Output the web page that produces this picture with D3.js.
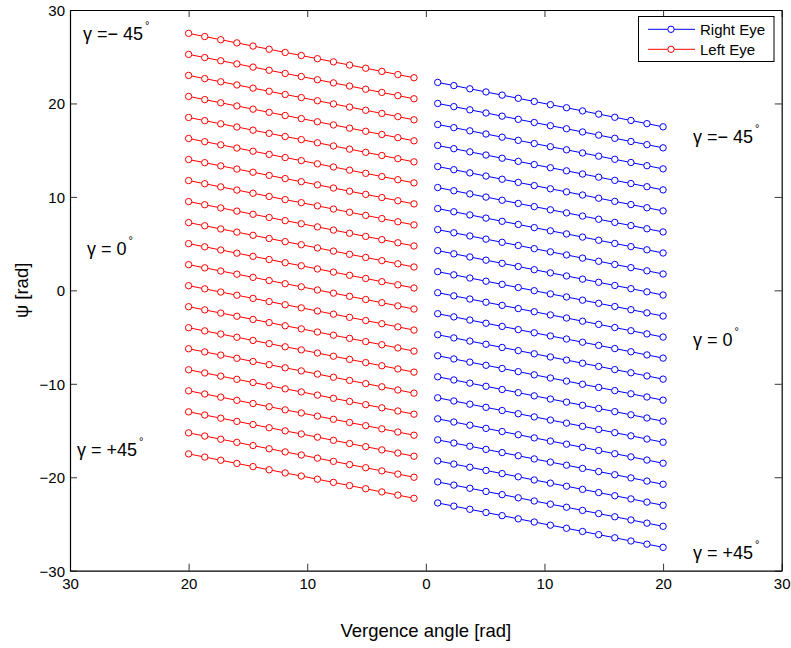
<!DOCTYPE html>
<html>
<head>
<meta charset="utf-8">
<script src="https://cdn.jsdelivr.net/npm/d3@7"></script>
<style>
  body { margin: 0; background: #fff; }
  svg { display: block; font-family: Arial, "Liberation Sans", Helvetica, sans-serif; }
</style>
</head>
<body>
<svg id="chart" width="791" height="648"></svg>
<script>
// x positions of the markers (left eye plotted on the negative side, labels show |x|)
const leftEyeX = [-20, -18.64, -17.29, -15.93, -14.57, -13.21, -11.86, -10.5, -9.14, -7.79, -6.43, -5.07, -3.71, -2.36, -1];
const rightEyeX = [1, 2.36, 3.71, 5.07, 6.43, 7.79, 9.14, 10.5, 11.86, 13.21, 14.57, 15.93, 17.29, 18.64, 20];

// psi values, one row per gamma line (top to bottom)
const leftEyePsi = [
  [27.5, 27.16, 26.82, 26.48, 26.14, 25.8, 25.46, 25.13, 24.79, 24.45, 24.11, 23.77, 23.43, 23.09, 22.75],
  [25.25, 24.91, 24.57, 24.23, 23.89, 23.55, 23.21, 22.88, 22.54, 22.2, 21.86, 21.52, 21.18, 20.84, 20.5],
  [23, 22.66, 22.32, 21.98, 21.64, 21.3, 20.96, 20.63, 20.29, 19.95, 19.61, 19.27, 18.93, 18.59, 18.25],
  [20.75, 20.41, 20.07, 19.73, 19.39, 19.05, 18.71, 18.38, 18.04, 17.7, 17.36, 17.02, 16.68, 16.34, 16],
  [18.5, 18.16, 17.82, 17.48, 17.14, 16.8, 16.46, 16.13, 15.79, 15.45, 15.11, 14.77, 14.43, 14.09, 13.75],
  [16.25, 15.91, 15.57, 15.23, 14.89, 14.55, 14.21, 13.88, 13.54, 13.2, 12.86, 12.52, 12.18, 11.84, 11.5],
  [14, 13.66, 13.32, 12.98, 12.64, 12.3, 11.96, 11.63, 11.29, 10.95, 10.61, 10.27, 9.93, 9.59, 9.25],
  [11.75, 11.41, 11.07, 10.73, 10.39, 10.05, 9.71, 9.38, 9.04, 8.7, 8.36, 8.02, 7.68, 7.34, 7],
  [9.5, 9.16, 8.82, 8.48, 8.14, 7.8, 7.46, 7.13, 6.79, 6.45, 6.11, 5.77, 5.43, 5.09, 4.75],
  [7.25, 6.91, 6.57, 6.23, 5.89, 5.55, 5.21, 4.88, 4.54, 4.2, 3.86, 3.52, 3.18, 2.84, 2.5],
  [5, 4.66, 4.32, 3.98, 3.64, 3.3, 2.96, 2.63, 2.29, 1.95, 1.61, 1.27, 0.93, 0.59, 0.25],
  [2.75, 2.41, 2.07, 1.73, 1.39, 1.05, 0.71, 0.38, 0.04, -0.3, -0.64, -0.98, -1.32, -1.66, -2],
  [0.5, 0.16, -0.18, -0.52, -0.86, -1.2, -1.54, -1.87, -2.21, -2.55, -2.89, -3.23, -3.57, -3.91, -4.25],
  [-1.75, -2.09, -2.43, -2.77, -3.11, -3.45, -3.79, -4.12, -4.46, -4.8, -5.14, -5.48, -5.82, -6.16, -6.5],
  [-4, -4.34, -4.68, -5.02, -5.36, -5.7, -6.04, -6.37, -6.71, -7.05, -7.39, -7.73, -8.07, -8.41, -8.75],
  [-6.25, -6.59, -6.93, -7.27, -7.61, -7.95, -8.29, -8.62, -8.96, -9.3, -9.64, -9.98, -10.32, -10.66, -11],
  [-8.5, -8.84, -9.18, -9.52, -9.86, -10.2, -10.54, -10.87, -11.21, -11.55, -11.89, -12.23, -12.57, -12.91, -13.25],
  [-10.75, -11.09, -11.43, -11.77, -12.11, -12.45, -12.79, -13.12, -13.46, -13.8, -14.14, -14.48, -14.82, -15.16, -15.5],
  [-13, -13.34, -13.68, -14.02, -14.36, -14.7, -15.04, -15.37, -15.71, -16.05, -16.39, -16.73, -17.07, -17.41, -17.75],
  [-15.25, -15.59, -15.93, -16.27, -16.61, -16.95, -17.29, -17.62, -17.96, -18.3, -18.64, -18.98, -19.32, -19.66, -20],
  [-17.5, -17.84, -18.18, -18.52, -18.86, -19.2, -19.54, -19.87, -20.21, -20.55, -20.89, -21.23, -21.57, -21.91, -22.25]
];

const rightEyePsi = [
  [22.25, 21.91, 21.57, 21.23, 20.89, 20.55, 20.21, 19.87, 19.54, 19.2, 18.86, 18.52, 18.18, 17.84, 17.5],
  [20, 19.66, 19.32, 18.98, 18.64, 18.3, 17.96, 17.62, 17.29, 16.95, 16.61, 16.27, 15.93, 15.59, 15.25],
  [17.75, 17.41, 17.07, 16.73, 16.39, 16.05, 15.71, 15.37, 15.04, 14.7, 14.36, 14.02, 13.68, 13.34, 13],
  [15.5, 15.16, 14.82, 14.48, 14.14, 13.8, 13.46, 13.12, 12.79, 12.45, 12.11, 11.77, 11.43, 11.09, 10.75],
  [13.25, 12.91, 12.57, 12.23, 11.89, 11.55, 11.21, 10.87, 10.54, 10.2, 9.86, 9.52, 9.18, 8.84, 8.5],
  [11, 10.66, 10.32, 9.98, 9.64, 9.3, 8.96, 8.62, 8.29, 7.95, 7.61, 7.27, 6.93, 6.59, 6.25],
  [8.75, 8.41, 8.07, 7.73, 7.39, 7.05, 6.71, 6.37, 6.04, 5.7, 5.36, 5.02, 4.68, 4.34, 4],
  [6.5, 6.16, 5.82, 5.48, 5.14, 4.8, 4.46, 4.12, 3.79, 3.45, 3.11, 2.77, 2.43, 2.09, 1.75],
  [4.25, 3.91, 3.57, 3.23, 2.89, 2.55, 2.21, 1.87, 1.54, 1.2, 0.86, 0.52, 0.18, -0.16, -0.5],
  [2, 1.66, 1.32, 0.98, 0.64, 0.3, -0.04, -0.38, -0.71, -1.05, -1.39, -1.73, -2.07, -2.41, -2.75],
  [-0.25, -0.59, -0.93, -1.27, -1.61, -1.95, -2.29, -2.63, -2.96, -3.3, -3.64, -3.98, -4.32, -4.66, -5],
  [-2.5, -2.84, -3.18, -3.52, -3.86, -4.2, -4.54, -4.88, -5.21, -5.55, -5.89, -6.23, -6.57, -6.91, -7.25],
  [-4.75, -5.09, -5.43, -5.77, -6.11, -6.45, -6.79, -7.13, -7.46, -7.8, -8.14, -8.48, -8.82, -9.16, -9.5],
  [-7, -7.34, -7.68, -8.02, -8.36, -8.7, -9.04, -9.38, -9.71, -10.05, -10.39, -10.73, -11.07, -11.41, -11.75],
  [-9.25, -9.59, -9.93, -10.27, -10.61, -10.95, -11.29, -11.63, -11.96, -12.3, -12.64, -12.98, -13.32, -13.66, -14],
  [-11.5, -11.84, -12.18, -12.52, -12.86, -13.2, -13.54, -13.88, -14.21, -14.55, -14.89, -15.23, -15.57, -15.91, -16.25],
  [-13.75, -14.09, -14.43, -14.77, -15.11, -15.45, -15.79, -16.13, -16.46, -16.8, -17.14, -17.48, -17.82, -18.16, -18.5],
  [-16, -16.34, -16.68, -17.02, -17.36, -17.7, -18.04, -18.38, -18.71, -19.05, -19.39, -19.73, -20.07, -20.41, -20.75],
  [-18.25, -18.59, -18.93, -19.27, -19.61, -19.95, -20.29, -20.63, -20.96, -21.3, -21.64, -21.98, -22.32, -22.66, -23],
  [-20.5, -20.84, -21.18, -21.52, -21.86, -22.2, -22.54, -22.88, -23.21, -23.55, -23.89, -24.23, -24.57, -24.91, -25.25],
  [-22.75, -23.09, -23.43, -23.77, -24.11, -24.45, -24.79, -25.13, -25.46, -25.8, -26.14, -26.48, -26.82, -27.16, -27.5]
];

const xTicks = [-30, -20, -10, 0, 10, 20, 30];
const yTicks = [-30, -20, -10, 0, 10, 20, 30];
const seriesNames = ["Right Eye", "Left Eye"];
const gammaLabels = ["γ =− 45", "γ = 0", "γ = +45", "γ =− 45", "γ = 0", "γ = +45"];

// layout
const margin = { left: 70, right: 9.3, top: 10, bottom: 77.3 };
const W = 791, H = 648;
const colors = { "Right Eye": "#0000ff", "Left Eye": "#ff0000" };
const gammaPos = [[83, 40], [87, 255], [77, 456], [693, 143], [693, 346], [693, 559]];

const svg = d3.select("#chart");
const x = d3.scaleLinear().domain([-30, 30]).range([margin.left, W - margin.right]);
const y = d3.scaleLinear().domain([-30, 30]).range([H - margin.bottom, margin.top]);
const minus = v => v < 0 ? "\u2212" + Math.abs(v) : "" + v;

// axes (ticks point inward, box on all four sides)
const gx = svg.append("g").attr("transform", `translate(0,${y(-30)})`)
  .call(d3.axisBottom(x).tickValues(xTicks).tickFormat(d => Math.abs(d))
    .tickSizeInner(-7).tickSizeOuter(0).tickPadding(8));
svg.append("g").attr("transform", `translate(0,${y(30)})`)
  .call(d3.axisTop(x).tickValues(xTicks).tickFormat("").tickSizeInner(-7).tickSizeOuter(0));
const gy = svg.append("g").attr("transform", `translate(${x(-30)},0)`)
  .call(d3.axisLeft(y).tickValues(yTicks).tickFormat(minus)
    .tickSizeInner(-7).tickSizeOuter(0).tickPadding(5));
svg.append("g").attr("transform", `translate(${x(30)},0)`)
  .call(d3.axisRight(y).tickValues(yTicks).tickFormat("").tickSizeInner(-7).tickSizeOuter(0));

svg.selectAll(".domain").attr("stroke", "#000").attr("stroke-width", 1.2);
svg.selectAll(".tick line").attr("stroke", "#000").attr("stroke-width", 0.8);
svg.selectAll(".tick text").attr("font-size", 15).attr("fill", "#000")
  .attr("font-family", "Arial, 'Liberation Sans', sans-serif");
gy.selectAll(".tick text").attr("dy", "0.36em");

// lines and markers
const line = d3.line().x(d => x(d[0])).y(d => y(d[1]));
function drawSeries(xs, rows, color) {
  const g = svg.append("g");
  rows.forEach(row => {
    const pts = xs.map((v, i) => [v, row[i]]);
    g.append("path").attr("d", line(pts)).attr("fill", "none")
      .attr("stroke", color).attr("stroke-width", 1);
    g.selectAll(null).data(pts).enter().append("circle")
      .attr("cx", d => x(d[0])).attr("cy", d => y(d[1])).attr("r", 3.2)
      .attr("fill", "#fff").attr("stroke", color).attr("stroke-width", 1);
  });
}
drawSeries(leftEyeX, leftEyePsi, colors["Left Eye"]);
drawSeries(rightEyeX, rightEyePsi, colors["Right Eye"]);

// gamma annotations
gammaLabels.forEach((t, i) => {
  const txt = svg.append("text").attr("x", gammaPos[i][0]).attr("y", gammaPos[i][1])
    .attr("font-size", 18).attr("fill", "#000");
  txt.append("tspan").text(t);
  txt.append("tspan").attr("dx", 2).attr("dy", -11).attr("font-size", 11).text("°");
});

// axis labels
svg.append("text").attr("x", x(0)).attr("y", 636.5).attr("text-anchor", "middle")
  .attr("font-size", 18.5).attr("fill", "#000").text("Vergence angle [rad]");
svg.append("text").attr("transform", `translate(28,${y(0)}) rotate(-90)`)
  .attr("text-anchor", "middle").attr("font-size", 18.5).attr("fill", "#000").text("ψ [rad]");

// legend
const lg = svg.append("g");
lg.append("rect").attr("x", 638.5).attr("y", 16.5).attr("width", 135.5).attr("height", 45)
  .attr("fill", "#fff").attr("stroke", "#000").attr("stroke-width", 1);
seriesNames.forEach((name, i) => {
  const ly = 29.3 + i * 20;
  lg.append("line").attr("x1", 648).attr("x2", 695).attr("y1", ly).attr("y2", ly)
    .attr("stroke", colors[name]).attr("stroke-width", 1);
  lg.append("circle").attr("cx", 671).attr("cy", ly).attr("r", 3.2)
    .attr("fill", "#fff").attr("stroke", colors[name]);
  lg.append("text").attr("x", 700).attr("y", ly + 5.3).attr("font-size", 15)
    .attr("fill", "#000").text(name);
});
</script>
</body>
</html>
